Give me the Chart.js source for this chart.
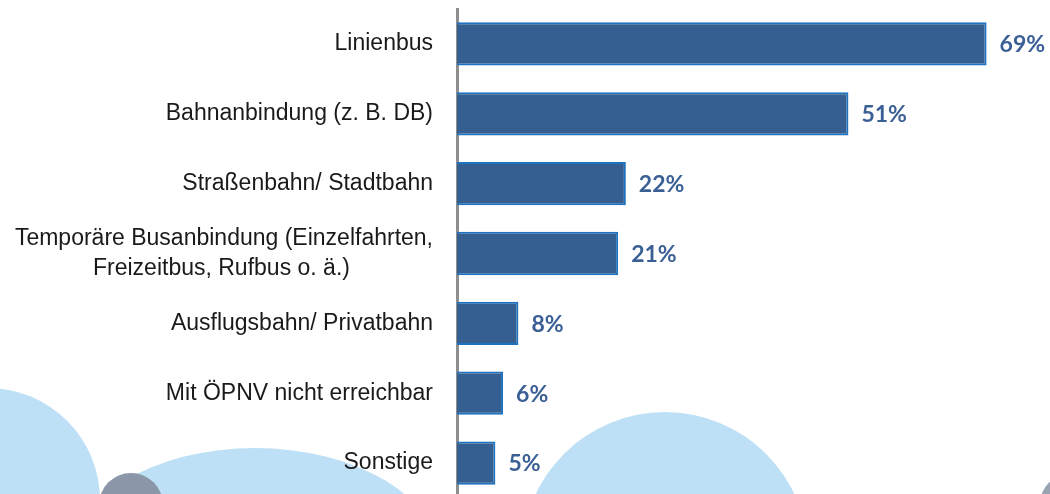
<!DOCTYPE html>
<html>
<head>
<meta charset="utf-8">
<script src="https://cdn.jsdelivr.net/npm/chart.js@4"></script>
<style>
  html, body { margin: 0; padding: 0; background: #fff; overflow: hidden; }
  #wrap { position: relative; width: 1050px; height: 504px; }
  .deco { position: absolute; border-radius: 50%; }
  #chartBox { position: absolute; left: 0; top: 0; width: 1050px; height: 504px; z-index: 2; }
</style>
</head>
<body>
<div id="wrap">
  <div class="deco" style="left:-124px;top:388px;width:224px;height:224px;background:#bee0f6;"></div>
  <div class="deco" style="left:70px;top:448px;width:370px;height:224px;background:#bee0f6;"></div>
  <div class="deco" style="left:99px;top:473px;width:64px;height:64px;background:#8b96a8;"></div>
  <div class="deco" style="left:522px;top:412px;width:286px;height:286px;background:#bee0f6;"></div>
  <div class="deco" style="left:1040px;top:474px;width:60px;height:60px;background:#9aa3b2;"></div>
  <div id="chartBox"><canvas id="myChart"></canvas></div>
</div>
<script>
const labels = [
  "Linienbus",
  "Bahnanbindung (z. B. DB)",
  "Straßenbahn/ Stadtbahn",
  ["Temporäre Busanbindung (Einzelfahrten,", "Freizeitbus, Rufbus o. ä.)"],
  "Ausflugsbahn/ Privatbahn",
  "Mit ÖPNV nicht erreichbar",
  "Sonstige",
];
const values = [69, 51, 22, 21, 8, 6, 5];

const measure = document.createElement("canvas").getContext("2d");

// narrow Arial look if the narrow face is installed
measure.font = "40px monospace";
const monoW = measure.measureText("Linienbus Bahn").width;
measure.font = "40px 'Liberation Sans Narrow', monospace";
const hasNarrow = measure.measureText("Linienbus Bahn").width !== monoW;
const labelFamily = hasNarrow ? "'Liberation Sans Narrow', 'Liberation Sans', sans-serif" : "'Liberation Sans', Arial, sans-serif";
const labelSize = hasNarrow ? 28 : 23;
measure.font = labelSize + "px " + labelFamily;

// centre the lines of a two-line label (they are drawn right-aligned)
function centerLines(lines) {
  const widths = lines.map(l => measure.measureText(l).width);
  const max = Math.max(...widths);
  const sp = measure.measureText("\u00a0").width;
  return lines.map((l, i) => l + "\u00a0".repeat(Math.round((max - widths[i]) / 2 / sp)));
}

const valueLabels = {
  id: "valueLabels",
  afterDatasetsDraw(chart) {
    const ctx = chart.ctx;
    const meta = chart.getDatasetMeta(0);
    ctx.save();
    ctx.font = "bold 23px Lato, sans-serif";
    ctx.fillStyle = "#3a5f95";
    ctx.textAlign = "left";
    ctx.textBaseline = "middle";
    meta.data.forEach((bar, i) => {
      ctx.fillText(values[i] + "%", bar.x + 13, bar.y + 1);
    });
    ctx.restore();
  },
};

const config = {
  type: "bar",
  data: {
    labels: labels,
    datasets: [
      {
        data: values,
        backgroundColor: "#365f91",
        borderColor: "#1f72bf",
        borderWidth: 2,
        categoryPercentage: 1,
        barPercentage: 0.62,
      },
    ],
  },
  options: {
    indexAxis: "y",
    responsive: true,
    maintainAspectRatio: false,
    animation: false,
    layout: { padding: { top: 9, bottom: 6, right: 2, left: 0 } },
    plugins: { legend: { display: false }, tooltip: { enabled: false } },
    scales: {
      x: { display: false, min: 0, max: 77 },
      y: {
        afterFit(scale) {
          scale.width = 457;
          scale.paddingTop = 0;
          scale.paddingBottom = 0;
        },
        grid: { display: false, drawTicks: true, tickLength: 24 },
        border: { display: true, color: "#8e8e8e", width: 3 },
        ticks: {
          padding: 0,
          color: "#1a1a1a",
          font: { family: labelFamily, size: labelSize, lineHeight: 30 / labelSize },
          callback(v, i) {
            const l = labels[i];
            return Array.isArray(l) ? centerLines(l) : l;
          },
        },
      },
    },
  },
  plugins: [valueLabels],
};

var myChart = new Chart(document.getElementById("myChart"), config);
</script>
</body>
</html>
